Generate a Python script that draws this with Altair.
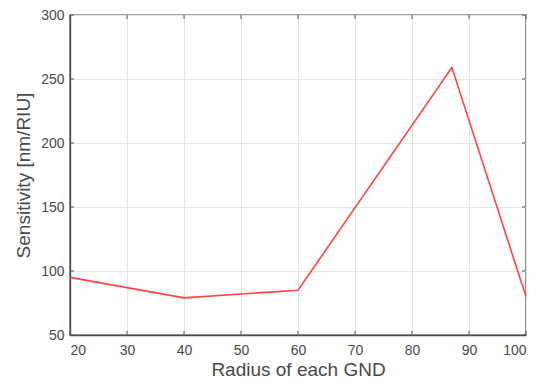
import altair as alt
import pandas as pd

radius = [20, 40, 60, 87, 100]
sensitivity = [95, 79, 85, 259, 80]

x_ticks = [20, 30, 40, 50, 60, 70, 80, 90, 100]
y_ticks = [50, 100, 150, 200, 250, 300]

df = pd.DataFrame({"radius": radius, "sensitivity": sensitivity})
xt = pd.DataFrame({"v": x_ticks})
yt = pd.DataFrame({"v": y_ticks})

xs = alt.Scale(domain=[20, 100], nice=False)
ys = alt.Scale(domain=[50, 300], nice=False)

W, H = 456, 320

line = alt.Chart(df).mark_line(color="#ff4444", strokeWidth=1.6).encode(
    x=alt.X("radius:Q", scale=xs,
            axis=alt.Axis(values=x_ticks, title="Radius of each GND", format="d")),
    y=alt.Y("sensitivity:Q", scale=ys,
            axis=alt.Axis(values=y_ticks, title="Sensitivity [nm/RIU]", format="d")),
)

tick_color = "#555555"
bx = alt.Chart(xt).mark_rule(color=tick_color, strokeWidth=1).encode(
    x=alt.X("v:Q", scale=xs), y=alt.value(H), y2=alt.value(H - 4))
tx = alt.Chart(xt).mark_rule(color=tick_color, strokeWidth=1).encode(
    x=alt.X("v:Q", scale=xs), y=alt.value(0), y2=alt.value(4))
ly = alt.Chart(yt).mark_rule(color=tick_color, strokeWidth=1).encode(
    y=alt.Y("v:Q", scale=ys), x=alt.value(0), x2=alt.value(4))
ry = alt.Chart(yt).mark_rule(color=tick_color, strokeWidth=1).encode(
    y=alt.Y("v:Q", scale=ys), x=alt.value(W), x2=alt.value(W - 4))

chart = alt.layer(line, bx, tx, ly, ry).properties(
    width=W, height=H,
    autosize=alt.AutoSizeParams(type="none"),
    padding={"left": 62, "top": 7, "right": 10, "bottom": 45},
).configure_view(
    stroke="#4d4d4d", strokeWidth=1.4
).configure_axis(
    labelFont="Liberation Sans", titleFont="Liberation Sans",
    labelFontSize=14, titleFontSize=19, labelColor="#4a4a4a", titleColor="#4a4a4a",
    titleFontWeight="normal", gridColor="#e4e4e4", gridWidth=1,
    domain=True, domainColor="#4d4d4d", domainWidth=1.4, tickSize=0, labelPadding=6,
).configure_axisX(
    labelPadding=8, titleBaseline="alphabetic", titleY=40
).configure_axisY(
    titleBaseline="middle", titleX=-47
)

chart.save("out.html", embed_options={"renderer": "svg", "actions": False})
